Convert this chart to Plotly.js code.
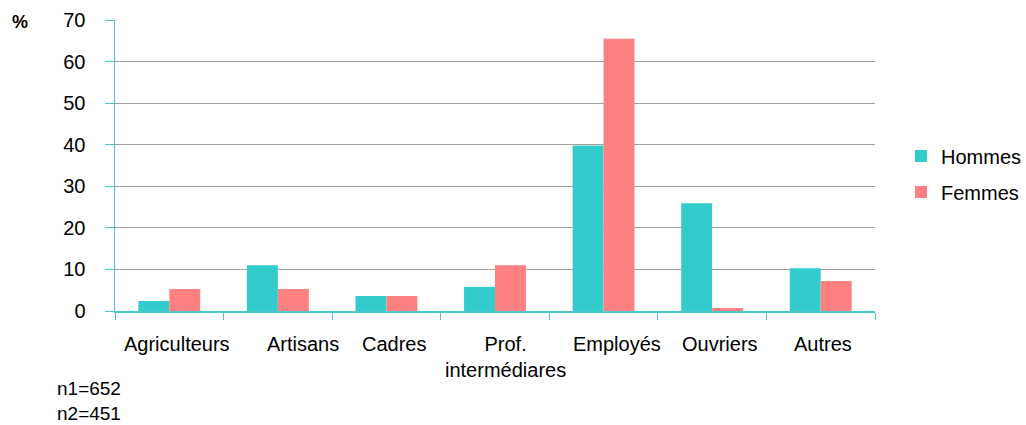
<!DOCTYPE html>
<html>
<head>
<meta charset="utf-8">
<script src="https://cdn.plot.ly/plotly-3.0.1.min.js"></script>
<style>html,body{margin:0;padding:0;background:#fff;}#chart{width:1026px;height:425px;}</style>
</head>
<body>
<div id="chart"></div>
<script>
const categories = ["Agriculteurs", "Artisans", "Cadres", "Prof.<br>intermédiares", "Employés", "Ouvriers", "Autres"];
const hommes = [2.4, 11.0, 3.6, 5.8, 39.8, 25.9, 10.3];
const femmes = [5.3, 5.3, 3.6, 11.0, 65.5, 0.7, 7.2];
const yTicks = [0, 10, 20, 30, 40, 50, 60, 70];
const seriesNames = ["Hommes", "Femmes"];
const notes = ["n1=652", "n2=451"];

const FONT = "Liberation Sans, Arial, Helvetica, sans-serif";
const AXIS = "#4CC8C8";
const FS = 20;
// horizontal nudges of category labels, as laid out in the original
const labelShift = [8, 25, 8, 10, 13, 8, 2];

const data = [
  {type: "bar", x: categories, y: hommes, name: seriesNames[0], marker: {color: "#33CCCC"}, legend: "legend"},
  {type: "bar", x: categories, y: femmes, name: seriesNames[1], marker: {color: "#FF8080"}, legend: "legend2"}
];

const annotations = categories.map((c, i) => ({
  text: c, xref: "x", yref: "paper", x: c, y: 0, xanchor: "center", yanchor: "top",
  xshift: labelShift[i], yshift: -20, showarrow: false, align: "center",
  font: {family: FONT, size: FS, color: "#000"}
}));
annotations.push(
  {text: "<b>%</b>", xref: "paper", yref: "paper", x: (20 - 115) / 760, y: (311 - 22) / 291, xanchor: "center", yanchor: "middle", showarrow: false, font: {family: FONT, size: 18}},
  {text: notes.join("<br>"), xref: "paper", yref: "paper", x: (56 - 115) / 760, y: (311 - 424.5) / 291, xanchor: "left", yanchor: "bottom", align: "left", borderpad: 0, showarrow: false, font: {family: FONT, size: 19}}
);

const layout = {
  width: 1026, height: 425,
  margin: {l: 115, r: 151, t: 20, b: 114, pad: 0, autoexpand: false},
  paper_bgcolor: "#fff", plot_bgcolor: "#fff",
  font: {family: FONT, size: FS, color: "#000"},
  barmode: "group", bargap: 0.43, bargroupgap: 0,
  xaxis: {
    type: "category", tickson: "boundaries", ticks: "outside", ticklen: 7, tickcolor: AXIS, tickwidth: 1,
    showline: true, linecolor: AXIS, linewidth: 1.5, showgrid: false, showticklabels: false, automargin: false,
    fixedrange: true
  },
  yaxis: {
    range: [0, 70], tickvals: yTicks, ticktext: yTicks.map(String), ticks: "outside", ticklen: 9,
    tickcolor: AXIS, tickwidth: 1, showline: true, linecolor: AXIS, linewidth: 1.5, automargin: false,
    showgrid: true, gridcolor: "#A0A0A0", gridwidth: 1, zeroline: false,
    tickfont: {family: FONT, size: FS, color: "#000"}, ticklabelstandoff: 15, fixedrange: true
  },
  legend: {x: (901 - 115) / 760, y: 0.5326, xanchor: "left", yanchor: "middle", font: {family: FONT, size: FS}, bgcolor: "rgba(0,0,0,0)"},
  legend2: {x: (901 - 115) / 760, y: 0.409, xanchor: "left", yanchor: "middle", font: {family: FONT, size: FS}, bgcolor: "rgba(0,0,0,0)"},
  showlegend: true,
  annotations: annotations
};

Plotly.newPlot("chart", data, layout, {displayModeBar: false, staticPlot: true});
</script>
</body>
</html>
